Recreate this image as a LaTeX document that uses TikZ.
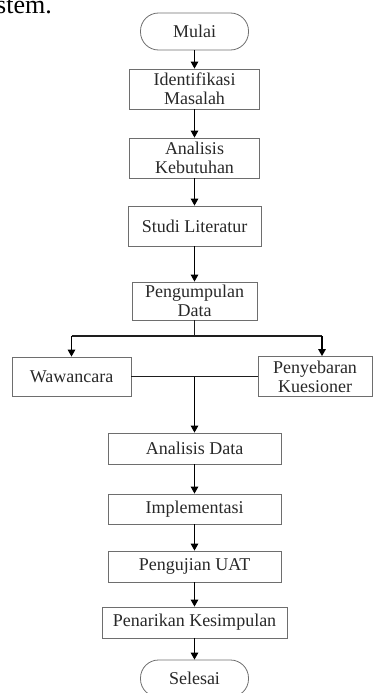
\documentclass[tikz,border=0pt]{standalone}
\usepackage{fontspec}
\setmainfont{Liberation Serif}
\usetikzlibrary{arrows.meta}

\begin{document}
\begin{tikzpicture}[x=1pt, y=-1pt]
% Styles
\tikzstyle{none} = [inner sep=0pt, minimum size=0pt]
\tikzstyle{box}=[draw={rgb,255: red,110; green,110; blue,110}, line width=0.8pt, shape=rectangle, align=center, inner sep=0pt, text={rgb,255: red,40; green,40; blue,40}, font=\fontsize{18}{19}\selectfont]
\tikzstyle{terminal}=[box, rounded corners=18pt, minimum width=108pt, minimum height=37pt]
\tikzstyle{arrow}=[draw=black, line width=1.3pt, -{Triangle[length=7pt, width=7.5pt]}]
\tikzstyle{line}=[draw={rgb,255: red,30; green,30; blue,30}, line width=1.3pt, -]

\useasboundingbox (0, 0) rectangle (375, 693);

\node [anchor=base west, inner sep=0pt, font=\fontsize{26}{26}\selectfont] (0) at (-4, 14) {stem.};

\node [style=terminal] (1) at (194.5, 31.5) {Mulai};
\node [style=box, minimum width=130pt, minimum height=40pt] (2) at (194.5, 89) {Identifikasi\\Masalah};
\node [style=box, minimum width=130pt, minimum height=40pt] (3) at (194.5, 158) {Analisis\\Kebutuhan};
\node [style=box, minimum width=133pt, minimum height=40pt] (4) at (194.5, 226) {Studi Literatur};
\node [style=box, minimum width=125pt, minimum height=38pt] (5) at (194.5, 301) {Pengumpulan\\Data};
\node [style=box, minimum width=119pt, minimum height=39pt] (6) at (71.5, 376.5) {Wawancara};
\node [style=box, minimum width=114pt, minimum height=40pt] (7) at (315, 376.5) {Penyebaran\\Kuesioner};
\node [style=box, minimum width=173pt, minimum height=31pt] (8) at (194.5, 448.5) {Analisis Data};
\node [style=box, minimum width=173pt, minimum height=30pt] (9) at (194.5, 509) {Implementasi};
\node [style=box, minimum width=173pt, minimum height=31pt] (10) at (194.5, 566.5) {Pengujian UAT};
\node [style=box, minimum width=185pt, minimum height=31pt] (11) at (194.5, 622.5) {Penarikan Kesimpulan};
\node [style=terminal] (12) at (194.5, 678.5) {Selesai};

\node [style=none] (13) at (194.5, 336) {};
\node [style=none] (14) at (71.5, 336) {};
\node [style=none] (15) at (322, 336) {};
\node [style=none] (16) at (194.5, 376.5) {};

\draw [style=arrow] (1) to (2);
\draw [style=arrow] (2) to (3);
\draw [style=arrow] (3) to (4);
\draw [style=arrow] (4) to (5);
\draw [style=line] (5) to (13.center);
\draw [style=line] (14.center) to (15.center);
\draw [style=arrow] (14.center) to (6);
\draw [style=arrow] (15.center) to (15 |- 7.north);
\draw [style=line] (6) to (7);
\draw [style=arrow] (16.center) to (8);
\draw [style=arrow] (8) to (9);
\draw [style=arrow] (9) to (10);
\draw [style=arrow] (10) to (11);
\draw [style=arrow] (11) to (12);
\end{tikzpicture}
\end{document}
